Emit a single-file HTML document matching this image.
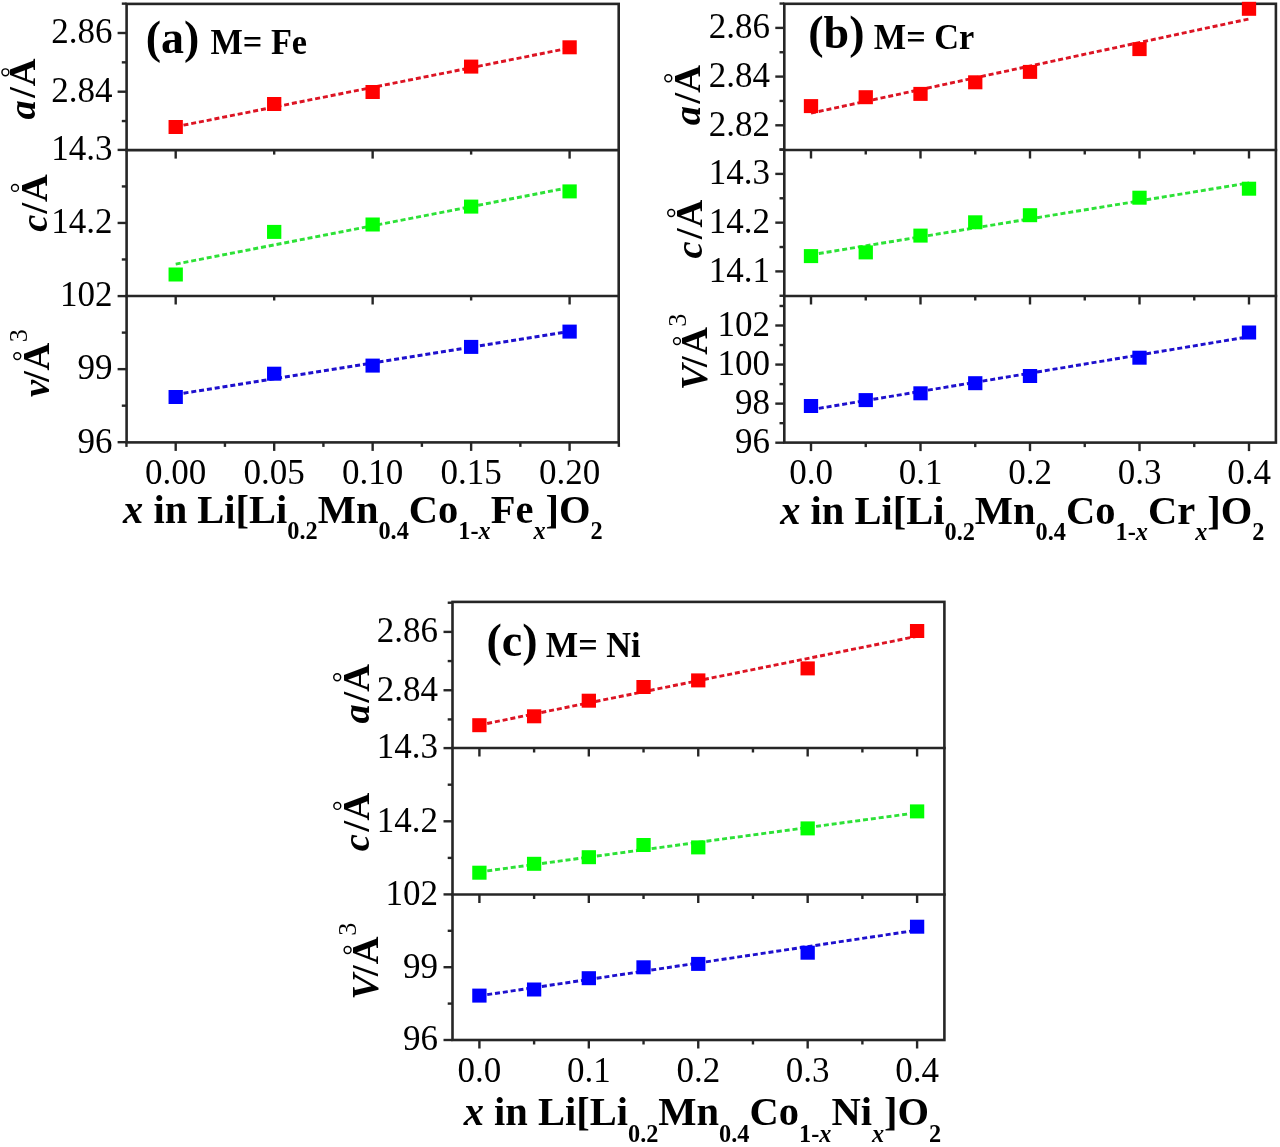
<!DOCTYPE html>
<html><head><meta charset="utf-8"><title>Lattice parameters</title>
<style>
html,body{margin:0;padding:0;background:#fff;}
body{width:1280px;height:1147px;overflow:hidden;}
svg{display:block;font-family:"Liberation Serif", serif;filter:blur(0.3px);}
text{fill:#000;}
</style></head>
<body>
<svg width="1280" height="1147" viewBox="0 0 1280 1147">
<rect x="0" y="0" width="1280" height="1147" fill="#fff"/>
<rect x="126.60" y="3.90" width="492.10" height="438.50" fill="none" stroke="#262626" stroke-width="2.6"/>
<line x1="125.30" y1="150.10" x2="620.00" y2="150.10" stroke="#262626" stroke-width="2.6" />
<line x1="125.30" y1="296.00" x2="620.00" y2="296.00" stroke="#262626" stroke-width="2.6" />
<line x1="175.70" y1="150.10" x2="175.70" y2="158.60" stroke="#262626" stroke-width="2.4" />
<line x1="274.18" y1="150.10" x2="274.18" y2="154.60" stroke="#262626" stroke-width="2.4" />
<line x1="372.65" y1="150.10" x2="372.65" y2="158.60" stroke="#262626" stroke-width="2.4" />
<line x1="471.13" y1="150.10" x2="471.13" y2="154.60" stroke="#262626" stroke-width="2.4" />
<line x1="569.60" y1="150.10" x2="569.60" y2="158.60" stroke="#262626" stroke-width="2.4" />
<line x1="175.70" y1="296.00" x2="175.70" y2="304.50" stroke="#262626" stroke-width="2.4" />
<line x1="274.18" y1="296.00" x2="274.18" y2="300.50" stroke="#262626" stroke-width="2.4" />
<line x1="372.65" y1="296.00" x2="372.65" y2="304.50" stroke="#262626" stroke-width="2.4" />
<line x1="471.13" y1="296.00" x2="471.13" y2="300.50" stroke="#262626" stroke-width="2.4" />
<line x1="569.60" y1="296.00" x2="569.60" y2="304.50" stroke="#262626" stroke-width="2.4" />
<line x1="126.46" y1="442.40" x2="126.46" y2="446.90" stroke="#262626" stroke-width="2.4" />
<line x1="175.70" y1="442.40" x2="175.70" y2="450.90" stroke="#262626" stroke-width="2.4" />
<line x1="224.94" y1="442.40" x2="224.94" y2="446.90" stroke="#262626" stroke-width="2.4" />
<line x1="274.18" y1="442.40" x2="274.18" y2="450.90" stroke="#262626" stroke-width="2.4" />
<line x1="323.41" y1="442.40" x2="323.41" y2="446.90" stroke="#262626" stroke-width="2.4" />
<line x1="372.65" y1="442.40" x2="372.65" y2="450.90" stroke="#262626" stroke-width="2.4" />
<line x1="421.89" y1="442.40" x2="421.89" y2="446.90" stroke="#262626" stroke-width="2.4" />
<line x1="471.13" y1="442.40" x2="471.13" y2="450.90" stroke="#262626" stroke-width="2.4" />
<line x1="520.36" y1="442.40" x2="520.36" y2="446.90" stroke="#262626" stroke-width="2.4" />
<line x1="569.60" y1="442.40" x2="569.60" y2="450.90" stroke="#262626" stroke-width="2.4" />
<line x1="618.84" y1="442.40" x2="618.84" y2="446.90" stroke="#262626" stroke-width="2.4" />
<line x1="121.80" y1="121.05" x2="126.60" y2="121.05" stroke="#262626" stroke-width="2.4" />
<line x1="117.60" y1="91.70" x2="126.60" y2="91.70" stroke="#262626" stroke-width="2.4" />
<line x1="121.80" y1="62.35" x2="126.60" y2="62.35" stroke="#262626" stroke-width="2.4" />
<line x1="117.60" y1="33.00" x2="126.60" y2="33.00" stroke="#262626" stroke-width="2.4" />
<line x1="121.80" y1="3.65" x2="126.60" y2="3.65" stroke="#262626" stroke-width="2.4" />
<line x1="121.80" y1="259.47" x2="126.60" y2="259.47" stroke="#262626" stroke-width="2.4" />
<line x1="117.60" y1="222.95" x2="126.60" y2="222.95" stroke="#262626" stroke-width="2.4" />
<line x1="121.80" y1="186.43" x2="126.60" y2="186.43" stroke="#262626" stroke-width="2.4" />
<line x1="117.60" y1="149.90" x2="126.60" y2="149.90" stroke="#262626" stroke-width="2.4" />
<line x1="117.60" y1="442.20" x2="126.60" y2="442.20" stroke="#262626" stroke-width="2.4" />
<line x1="121.80" y1="405.68" x2="126.60" y2="405.68" stroke="#262626" stroke-width="2.4" />
<line x1="117.60" y1="369.15" x2="126.60" y2="369.15" stroke="#262626" stroke-width="2.4" />
<line x1="121.80" y1="332.62" x2="126.60" y2="332.62" stroke="#262626" stroke-width="2.4" />
<line x1="117.60" y1="296.10" x2="126.60" y2="296.10" stroke="#262626" stroke-width="2.4" />
<text x="112.50" y="102.00" font-size="35" text-anchor="end" font-weight="normal" font-style="normal" >2.84</text>
<text x="112.50" y="43.30" font-size="35" text-anchor="end" font-weight="normal" font-style="normal" >2.86</text>
<text x="112.50" y="233.25" font-size="35" text-anchor="end" font-weight="normal" font-style="normal" >14.2</text>
<text x="112.50" y="160.20" font-size="35" text-anchor="end" font-weight="normal" font-style="normal" >14.3</text>
<text x="112.50" y="452.50" font-size="35" text-anchor="end" font-weight="normal" font-style="normal" >96</text>
<text x="112.50" y="379.45" font-size="35" text-anchor="end" font-weight="normal" font-style="normal" >99</text>
<text x="112.50" y="306.40" font-size="35" text-anchor="end" font-weight="normal" font-style="normal" >102</text>
<text x="175.70" y="484.30" font-size="35" text-anchor="middle" font-weight="normal" font-style="normal" >0.00</text>
<text x="274.18" y="484.30" font-size="35" text-anchor="middle" font-weight="normal" font-style="normal" >0.05</text>
<text x="372.65" y="484.30" font-size="35" text-anchor="middle" font-weight="normal" font-style="normal" >0.10</text>
<text x="471.12" y="484.30" font-size="35" text-anchor="middle" font-weight="normal" font-style="normal" >0.15</text>
<text x="569.60" y="484.30" font-size="35" text-anchor="middle" font-weight="normal" font-style="normal" >0.20</text>
<line x1="175.70" y1="126.74" x2="569.60" y2="48.02" stroke="#dc1423" stroke-width="2.9" stroke-dasharray="5 2.9"/>
<rect x="168.55" y="120.00" width="14.3" height="14.0" fill="#ff0000"/>
<rect x="267.03" y="97.00" width="14.3" height="14.0" fill="#ff0000"/>
<rect x="365.50" y="85.00" width="14.3" height="14.0" fill="#ff0000"/>
<rect x="463.98" y="59.60" width="14.3" height="14.0" fill="#ff0000"/>
<rect x="562.45" y="40.30" width="14.3" height="14.0" fill="#ff0000"/>
<line x1="175.70" y1="264.08" x2="569.60" y2="187.48" stroke="#2de137" stroke-width="2.9" stroke-dasharray="5 2.9"/>
<rect x="168.55" y="267.50" width="14.3" height="14.0" fill="#00ff00"/>
<rect x="267.03" y="224.90" width="14.3" height="14.0" fill="#00ff00"/>
<rect x="365.50" y="217.50" width="14.3" height="14.0" fill="#00ff00"/>
<rect x="463.98" y="199.60" width="14.3" height="14.0" fill="#00ff00"/>
<rect x="562.45" y="184.40" width="14.3" height="14.0" fill="#00ff00"/>
<line x1="175.70" y1="394.48" x2="569.60" y2="331.44" stroke="#1e10cd" stroke-width="2.9" stroke-dasharray="5 2.9"/>
<rect x="168.55" y="390.00" width="14.3" height="14.0" fill="#0000ff"/>
<rect x="267.03" y="366.70" width="14.3" height="14.0" fill="#0000ff"/>
<rect x="365.50" y="358.60" width="14.3" height="14.0" fill="#0000ff"/>
<rect x="463.98" y="339.90" width="14.3" height="14.0" fill="#0000ff"/>
<rect x="562.45" y="324.60" width="14.3" height="14.0" fill="#0000ff"/>
<rect x="784.30" y="3.80" width="491.60" height="438.80" fill="none" stroke="#262626" stroke-width="2.6"/>
<line x1="783.00" y1="150.00" x2="1277.20" y2="150.00" stroke="#262626" stroke-width="2.6" />
<line x1="783.00" y1="296.00" x2="1277.20" y2="296.00" stroke="#262626" stroke-width="2.6" />
<line x1="811.00" y1="150.00" x2="811.00" y2="158.50" stroke="#262626" stroke-width="2.4" />
<line x1="865.75" y1="150.00" x2="865.75" y2="154.50" stroke="#262626" stroke-width="2.4" />
<line x1="920.50" y1="150.00" x2="920.50" y2="158.50" stroke="#262626" stroke-width="2.4" />
<line x1="975.25" y1="150.00" x2="975.25" y2="154.50" stroke="#262626" stroke-width="2.4" />
<line x1="1030.00" y1="150.00" x2="1030.00" y2="158.50" stroke="#262626" stroke-width="2.4" />
<line x1="1084.75" y1="150.00" x2="1084.75" y2="154.50" stroke="#262626" stroke-width="2.4" />
<line x1="1139.50" y1="150.00" x2="1139.50" y2="158.50" stroke="#262626" stroke-width="2.4" />
<line x1="1194.25" y1="150.00" x2="1194.25" y2="154.50" stroke="#262626" stroke-width="2.4" />
<line x1="1249.00" y1="150.00" x2="1249.00" y2="158.50" stroke="#262626" stroke-width="2.4" />
<line x1="811.00" y1="296.00" x2="811.00" y2="304.50" stroke="#262626" stroke-width="2.4" />
<line x1="865.75" y1="296.00" x2="865.75" y2="300.50" stroke="#262626" stroke-width="2.4" />
<line x1="920.50" y1="296.00" x2="920.50" y2="304.50" stroke="#262626" stroke-width="2.4" />
<line x1="975.25" y1="296.00" x2="975.25" y2="300.50" stroke="#262626" stroke-width="2.4" />
<line x1="1030.00" y1="296.00" x2="1030.00" y2="304.50" stroke="#262626" stroke-width="2.4" />
<line x1="1084.75" y1="296.00" x2="1084.75" y2="300.50" stroke="#262626" stroke-width="2.4" />
<line x1="1139.50" y1="296.00" x2="1139.50" y2="304.50" stroke="#262626" stroke-width="2.4" />
<line x1="1194.25" y1="296.00" x2="1194.25" y2="300.50" stroke="#262626" stroke-width="2.4" />
<line x1="1249.00" y1="296.00" x2="1249.00" y2="304.50" stroke="#262626" stroke-width="2.4" />
<line x1="811.00" y1="442.60" x2="811.00" y2="451.10" stroke="#262626" stroke-width="2.4" />
<line x1="865.75" y1="442.60" x2="865.75" y2="447.10" stroke="#262626" stroke-width="2.4" />
<line x1="920.50" y1="442.60" x2="920.50" y2="451.10" stroke="#262626" stroke-width="2.4" />
<line x1="975.25" y1="442.60" x2="975.25" y2="447.10" stroke="#262626" stroke-width="2.4" />
<line x1="1030.00" y1="442.60" x2="1030.00" y2="451.10" stroke="#262626" stroke-width="2.4" />
<line x1="1084.75" y1="442.60" x2="1084.75" y2="447.10" stroke="#262626" stroke-width="2.4" />
<line x1="1139.50" y1="442.60" x2="1139.50" y2="451.10" stroke="#262626" stroke-width="2.4" />
<line x1="1194.25" y1="442.60" x2="1194.25" y2="447.10" stroke="#262626" stroke-width="2.4" />
<line x1="1249.00" y1="442.60" x2="1249.00" y2="451.10" stroke="#262626" stroke-width="2.4" />
<line x1="779.50" y1="149.65" x2="784.30" y2="149.65" stroke="#262626" stroke-width="2.4" />
<line x1="775.30" y1="125.30" x2="784.30" y2="125.30" stroke="#262626" stroke-width="2.4" />
<line x1="779.50" y1="100.95" x2="784.30" y2="100.95" stroke="#262626" stroke-width="2.4" />
<line x1="775.30" y1="76.60" x2="784.30" y2="76.60" stroke="#262626" stroke-width="2.4" />
<line x1="779.50" y1="52.25" x2="784.30" y2="52.25" stroke="#262626" stroke-width="2.4" />
<line x1="775.30" y1="27.90" x2="784.30" y2="27.90" stroke="#262626" stroke-width="2.4" />
<line x1="779.50" y1="3.55" x2="784.30" y2="3.55" stroke="#262626" stroke-width="2.4" />
<line x1="779.50" y1="295.77" x2="784.30" y2="295.77" stroke="#262626" stroke-width="2.4" />
<line x1="775.30" y1="271.40" x2="784.30" y2="271.40" stroke="#262626" stroke-width="2.4" />
<line x1="779.50" y1="247.02" x2="784.30" y2="247.02" stroke="#262626" stroke-width="2.4" />
<line x1="775.30" y1="222.65" x2="784.30" y2="222.65" stroke="#262626" stroke-width="2.4" />
<line x1="779.50" y1="198.28" x2="784.30" y2="198.28" stroke="#262626" stroke-width="2.4" />
<line x1="775.30" y1="173.90" x2="784.30" y2="173.90" stroke="#262626" stroke-width="2.4" />
<line x1="779.50" y1="149.53" x2="784.30" y2="149.53" stroke="#262626" stroke-width="2.4" />
<line x1="775.30" y1="442.70" x2="784.30" y2="442.70" stroke="#262626" stroke-width="2.4" />
<line x1="779.50" y1="423.17" x2="784.30" y2="423.17" stroke="#262626" stroke-width="2.4" />
<line x1="775.30" y1="403.63" x2="784.30" y2="403.63" stroke="#262626" stroke-width="2.4" />
<line x1="779.50" y1="384.10" x2="784.30" y2="384.10" stroke="#262626" stroke-width="2.4" />
<line x1="775.30" y1="364.57" x2="784.30" y2="364.57" stroke="#262626" stroke-width="2.4" />
<line x1="779.50" y1="345.03" x2="784.30" y2="345.03" stroke="#262626" stroke-width="2.4" />
<line x1="775.30" y1="325.50" x2="784.30" y2="325.50" stroke="#262626" stroke-width="2.4" />
<line x1="779.50" y1="305.97" x2="784.30" y2="305.97" stroke="#262626" stroke-width="2.4" />
<text x="770.00" y="135.60" font-size="35" text-anchor="end" font-weight="normal" font-style="normal" >2.82</text>
<text x="770.00" y="86.90" font-size="35" text-anchor="end" font-weight="normal" font-style="normal" >2.84</text>
<text x="770.00" y="38.20" font-size="35" text-anchor="end" font-weight="normal" font-style="normal" >2.86</text>
<text x="770.00" y="281.70" font-size="35" text-anchor="end" font-weight="normal" font-style="normal" >14.1</text>
<text x="770.00" y="232.95" font-size="35" text-anchor="end" font-weight="normal" font-style="normal" >14.2</text>
<text x="770.00" y="184.20" font-size="35" text-anchor="end" font-weight="normal" font-style="normal" >14.3</text>
<text x="770.00" y="453.00" font-size="35" text-anchor="end" font-weight="normal" font-style="normal" >96</text>
<text x="770.00" y="413.93" font-size="35" text-anchor="end" font-weight="normal" font-style="normal" >98</text>
<text x="770.00" y="374.87" font-size="35" text-anchor="end" font-weight="normal" font-style="normal" >100</text>
<text x="770.00" y="335.80" font-size="35" text-anchor="end" font-weight="normal" font-style="normal" >102</text>
<text x="811.00" y="483.70" font-size="35" text-anchor="middle" font-weight="normal" font-style="normal" >0.0</text>
<text x="920.50" y="483.70" font-size="35" text-anchor="middle" font-weight="normal" font-style="normal" >0.1</text>
<text x="1030.00" y="483.70" font-size="35" text-anchor="middle" font-weight="normal" font-style="normal" >0.2</text>
<text x="1139.50" y="483.70" font-size="35" text-anchor="middle" font-weight="normal" font-style="normal" >0.3</text>
<text x="1249.00" y="483.70" font-size="35" text-anchor="middle" font-weight="normal" font-style="normal" >0.4</text>
<line x1="811.00" y1="113.12" x2="1249.00" y2="18.94" stroke="#dc1423" stroke-width="2.9" stroke-dasharray="5 2.9"/>
<rect x="803.85" y="99.10" width="14.3" height="14.0" fill="#ff0000"/>
<rect x="858.60" y="90.20" width="14.3" height="14.0" fill="#ff0000"/>
<rect x="913.35" y="86.90" width="14.3" height="14.0" fill="#ff0000"/>
<rect x="968.10" y="75.30" width="14.3" height="14.0" fill="#ff0000"/>
<rect x="1022.85" y="64.90" width="14.3" height="14.0" fill="#ff0000"/>
<rect x="1132.35" y="42.10" width="14.3" height="14.0" fill="#ff0000"/>
<rect x="1241.85" y="1.80" width="14.3" height="14.0" fill="#ff0000"/>
<line x1="811.00" y1="254.82" x2="1249.00" y2="182.91" stroke="#2de137" stroke-width="2.9" stroke-dasharray="5 2.9"/>
<rect x="803.85" y="249.10" width="14.3" height="14.0" fill="#00ff00"/>
<rect x="858.60" y="245.40" width="14.3" height="14.0" fill="#00ff00"/>
<rect x="913.35" y="228.60" width="14.3" height="14.0" fill="#00ff00"/>
<rect x="968.10" y="215.30" width="14.3" height="14.0" fill="#00ff00"/>
<rect x="1022.85" y="208.20" width="14.3" height="14.0" fill="#00ff00"/>
<rect x="1132.35" y="190.70" width="14.3" height="14.0" fill="#00ff00"/>
<rect x="1241.85" y="181.70" width="14.3" height="14.0" fill="#00ff00"/>
<line x1="811.00" y1="409.66" x2="1249.00" y2="336.71" stroke="#1e10cd" stroke-width="2.9" stroke-dasharray="5 2.9"/>
<rect x="803.85" y="399.00" width="14.3" height="14.0" fill="#0000ff"/>
<rect x="858.60" y="393.10" width="14.3" height="14.0" fill="#0000ff"/>
<rect x="913.35" y="386.30" width="14.3" height="14.0" fill="#0000ff"/>
<rect x="968.10" y="376.20" width="14.3" height="14.0" fill="#0000ff"/>
<rect x="1022.85" y="369.00" width="14.3" height="14.0" fill="#0000ff"/>
<rect x="1132.35" y="350.70" width="14.3" height="14.0" fill="#0000ff"/>
<rect x="1241.85" y="325.50" width="14.3" height="14.0" fill="#0000ff"/>
<rect x="452.50" y="601.90" width="491.90" height="438.10" fill="none" stroke="#262626" stroke-width="2.6"/>
<line x1="451.20" y1="748.00" x2="945.70" y2="748.00" stroke="#262626" stroke-width="2.6" />
<line x1="451.20" y1="894.50" x2="945.70" y2="894.50" stroke="#262626" stroke-width="2.6" />
<line x1="479.40" y1="748.00" x2="479.40" y2="756.50" stroke="#262626" stroke-width="2.4" />
<line x1="534.11" y1="748.00" x2="534.11" y2="752.50" stroke="#262626" stroke-width="2.4" />
<line x1="588.83" y1="748.00" x2="588.83" y2="756.50" stroke="#262626" stroke-width="2.4" />
<line x1="643.54" y1="748.00" x2="643.54" y2="752.50" stroke="#262626" stroke-width="2.4" />
<line x1="698.25" y1="748.00" x2="698.25" y2="756.50" stroke="#262626" stroke-width="2.4" />
<line x1="752.96" y1="748.00" x2="752.96" y2="752.50" stroke="#262626" stroke-width="2.4" />
<line x1="807.67" y1="748.00" x2="807.67" y2="756.50" stroke="#262626" stroke-width="2.4" />
<line x1="862.39" y1="748.00" x2="862.39" y2="752.50" stroke="#262626" stroke-width="2.4" />
<line x1="917.10" y1="748.00" x2="917.10" y2="756.50" stroke="#262626" stroke-width="2.4" />
<line x1="479.40" y1="894.50" x2="479.40" y2="903.00" stroke="#262626" stroke-width="2.4" />
<line x1="534.11" y1="894.50" x2="534.11" y2="899.00" stroke="#262626" stroke-width="2.4" />
<line x1="588.83" y1="894.50" x2="588.83" y2="903.00" stroke="#262626" stroke-width="2.4" />
<line x1="643.54" y1="894.50" x2="643.54" y2="899.00" stroke="#262626" stroke-width="2.4" />
<line x1="698.25" y1="894.50" x2="698.25" y2="903.00" stroke="#262626" stroke-width="2.4" />
<line x1="752.96" y1="894.50" x2="752.96" y2="899.00" stroke="#262626" stroke-width="2.4" />
<line x1="807.67" y1="894.50" x2="807.67" y2="903.00" stroke="#262626" stroke-width="2.4" />
<line x1="862.39" y1="894.50" x2="862.39" y2="899.00" stroke="#262626" stroke-width="2.4" />
<line x1="917.10" y1="894.50" x2="917.10" y2="903.00" stroke="#262626" stroke-width="2.4" />
<line x1="479.40" y1="1040.00" x2="479.40" y2="1048.50" stroke="#262626" stroke-width="2.4" />
<line x1="534.11" y1="1040.00" x2="534.11" y2="1044.50" stroke="#262626" stroke-width="2.4" />
<line x1="588.83" y1="1040.00" x2="588.83" y2="1048.50" stroke="#262626" stroke-width="2.4" />
<line x1="643.54" y1="1040.00" x2="643.54" y2="1044.50" stroke="#262626" stroke-width="2.4" />
<line x1="698.25" y1="1040.00" x2="698.25" y2="1048.50" stroke="#262626" stroke-width="2.4" />
<line x1="752.96" y1="1040.00" x2="752.96" y2="1044.50" stroke="#262626" stroke-width="2.4" />
<line x1="807.67" y1="1040.00" x2="807.67" y2="1048.50" stroke="#262626" stroke-width="2.4" />
<line x1="862.39" y1="1040.00" x2="862.39" y2="1044.50" stroke="#262626" stroke-width="2.4" />
<line x1="917.10" y1="1040.00" x2="917.10" y2="1048.50" stroke="#262626" stroke-width="2.4" />
<line x1="447.70" y1="719.42" x2="452.50" y2="719.42" stroke="#262626" stroke-width="2.4" />
<line x1="443.50" y1="690.25" x2="452.50" y2="690.25" stroke="#262626" stroke-width="2.4" />
<line x1="447.70" y1="661.07" x2="452.50" y2="661.07" stroke="#262626" stroke-width="2.4" />
<line x1="443.50" y1="631.90" x2="452.50" y2="631.90" stroke="#262626" stroke-width="2.4" />
<line x1="447.70" y1="602.72" x2="452.50" y2="602.72" stroke="#262626" stroke-width="2.4" />
<line x1="447.70" y1="857.90" x2="452.50" y2="857.90" stroke="#262626" stroke-width="2.4" />
<line x1="443.50" y1="821.30" x2="452.50" y2="821.30" stroke="#262626" stroke-width="2.4" />
<line x1="447.70" y1="784.70" x2="452.50" y2="784.70" stroke="#262626" stroke-width="2.4" />
<line x1="443.50" y1="748.10" x2="452.50" y2="748.10" stroke="#262626" stroke-width="2.4" />
<line x1="443.50" y1="1040.00" x2="452.50" y2="1040.00" stroke="#262626" stroke-width="2.4" />
<line x1="447.70" y1="1003.60" x2="452.50" y2="1003.60" stroke="#262626" stroke-width="2.4" />
<line x1="443.50" y1="967.20" x2="452.50" y2="967.20" stroke="#262626" stroke-width="2.4" />
<line x1="447.70" y1="930.80" x2="452.50" y2="930.80" stroke="#262626" stroke-width="2.4" />
<line x1="443.50" y1="894.40" x2="452.50" y2="894.40" stroke="#262626" stroke-width="2.4" />
<text x="438.00" y="700.55" font-size="35" text-anchor="end" font-weight="normal" font-style="normal" >2.84</text>
<text x="438.00" y="642.20" font-size="35" text-anchor="end" font-weight="normal" font-style="normal" >2.86</text>
<text x="438.00" y="831.60" font-size="35" text-anchor="end" font-weight="normal" font-style="normal" >14.2</text>
<text x="438.00" y="758.40" font-size="35" text-anchor="end" font-weight="normal" font-style="normal" >14.3</text>
<text x="438.00" y="1050.30" font-size="35" text-anchor="end" font-weight="normal" font-style="normal" >96</text>
<text x="438.00" y="977.50" font-size="35" text-anchor="end" font-weight="normal" font-style="normal" >99</text>
<text x="438.00" y="904.70" font-size="35" text-anchor="end" font-weight="normal" font-style="normal" >102</text>
<text x="479.40" y="1081.50" font-size="35" text-anchor="middle" font-weight="normal" font-style="normal" >0.0</text>
<text x="588.83" y="1081.50" font-size="35" text-anchor="middle" font-weight="normal" font-style="normal" >0.1</text>
<text x="698.25" y="1081.50" font-size="35" text-anchor="middle" font-weight="normal" font-style="normal" >0.2</text>
<text x="807.67" y="1081.50" font-size="35" text-anchor="middle" font-weight="normal" font-style="normal" >0.3</text>
<text x="917.10" y="1081.50" font-size="35" text-anchor="middle" font-weight="normal" font-style="normal" >0.4</text>
<line x1="479.40" y1="725.03" x2="917.10" y2="636.29" stroke="#dc1423" stroke-width="2.9" stroke-dasharray="5 2.9"/>
<rect x="472.25" y="718.20" width="14.3" height="14.0" fill="#ff0000"/>
<rect x="526.96" y="709.30" width="14.3" height="14.0" fill="#ff0000"/>
<rect x="581.68" y="693.70" width="14.3" height="14.0" fill="#ff0000"/>
<rect x="636.39" y="680.00" width="14.3" height="14.0" fill="#ff0000"/>
<rect x="691.10" y="673.40" width="14.3" height="14.0" fill="#ff0000"/>
<rect x="800.52" y="661.40" width="14.3" height="14.0" fill="#ff0000"/>
<rect x="909.95" y="624.00" width="14.3" height="14.0" fill="#ff0000"/>
<line x1="479.40" y1="871.92" x2="917.10" y2="812.74" stroke="#2de137" stroke-width="2.9" stroke-dasharray="5 2.9"/>
<rect x="472.25" y="865.70" width="14.3" height="14.0" fill="#00ff00"/>
<rect x="526.96" y="856.80" width="14.3" height="14.0" fill="#00ff00"/>
<rect x="581.68" y="850.20" width="14.3" height="14.0" fill="#00ff00"/>
<rect x="636.39" y="838.00" width="14.3" height="14.0" fill="#00ff00"/>
<rect x="691.10" y="840.40" width="14.3" height="14.0" fill="#00ff00"/>
<rect x="800.52" y="821.40" width="14.3" height="14.0" fill="#00ff00"/>
<rect x="909.95" y="804.40" width="14.3" height="14.0" fill="#00ff00"/>
<line x1="479.40" y1="995.84" x2="917.10" y2="930.18" stroke="#1e10cd" stroke-width="2.9" stroke-dasharray="5 2.9"/>
<rect x="472.25" y="988.60" width="14.3" height="14.0" fill="#0000ff"/>
<rect x="526.96" y="982.50" width="14.3" height="14.0" fill="#0000ff"/>
<rect x="581.68" y="971.20" width="14.3" height="14.0" fill="#0000ff"/>
<rect x="636.39" y="960.30" width="14.3" height="14.0" fill="#0000ff"/>
<rect x="691.10" y="956.90" width="14.3" height="14.0" fill="#0000ff"/>
<rect x="800.52" y="945.70" width="14.3" height="14.0" fill="#0000ff"/>
<rect x="909.95" y="919.70" width="14.3" height="14.0" fill="#0000ff"/>
<text x="145.8" y="52.9" font-weight="bold" font-size="46">(a)</text>
<text transform="translate(210.4,54.3) scale(1,1.04)" font-weight="bold" font-size="34.3">M= Fe</text>
<text x="808.3" y="48.3" font-weight="bold" font-size="46">(b)</text>
<text transform="translate(873.8,49.0) scale(1,1.04)" font-weight="bold" font-size="34.3">M= Cr</text>
<text x="486.4" y="656.2" font-weight="bold" font-size="46">(c)</text>
<text transform="translate(545.8,656.5) scale(1,1.04)" font-weight="bold" font-size="34.3">M= Ni</text>
<text x="123.00" y="522.70" font-weight="bold" font-size="40.5"><tspan font-style="italic">x</tspan> in Li[Li<tspan font-size="24.3" dy="16.5">0.2</tspan><tspan dy="-16.5">Mn</tspan><tspan font-size="24.3" dy="16.5">0.4</tspan><tspan dy="-16.5">Co</tspan><tspan font-size="24.3" dy="16.5">1-<tspan font-style="italic">x</tspan></tspan><tspan dy="-16.5">Fe</tspan><tspan font-size="24.3" dy="16.5" font-style="italic">x</tspan><tspan dy="-16.5">]O</tspan><tspan font-size="24.3" dy="16.5">2</tspan></text>
<text x="780.20" y="523.70" font-weight="bold" font-size="40.5"><tspan font-style="italic">x</tspan> in Li[Li<tspan font-size="24.3" dy="16.5">0.2</tspan><tspan dy="-16.5">Mn</tspan><tspan font-size="24.3" dy="16.5">0.4</tspan><tspan dy="-16.5">Co</tspan><tspan font-size="24.3" dy="16.5">1-<tspan font-style="italic">x</tspan></tspan><tspan dy="-16.5">Cr</tspan><tspan font-size="24.3" dy="16.5" font-style="italic">x</tspan><tspan dy="-16.5">]O</tspan><tspan font-size="24.3" dy="16.5">2</tspan></text>
<text x="463.70" y="1125.20" font-weight="bold" font-size="40.5"><tspan font-style="italic">x</tspan> in Li[Li<tspan font-size="24.3" dy="16.5">0.2</tspan><tspan dy="-16.5">Mn</tspan><tspan font-size="24.3" dy="16.5">0.4</tspan><tspan dy="-16.5">Co</tspan><tspan font-size="24.3" dy="16.5">1-<tspan font-style="italic">x</tspan></tspan><tspan dy="-16.5">Ni</tspan><tspan font-size="24.3" dy="16.5" font-style="italic">x</tspan><tspan dy="-16.5">]O</tspan><tspan font-size="24.3" dy="16.5">2</tspan></text>
<text transform="translate(35.20,119.45) rotate(-90)" font-size="38.5" font-weight="bold" font-style="italic">a</text>
<text transform="translate(35.20,97.82) rotate(-90)" font-size="38.5" font-weight="bold" font-style="normal">/</text>
<text transform="translate(35.20,86.28) rotate(-90)" font-size="38.5" font-weight="bold" font-style="normal">A</text>
<circle cx="5.40" cy="72.30" r="3.45" fill="none" stroke="#000" stroke-width="1.45"/>
<text transform="translate(46.80,231.86) rotate(-90)" font-size="38.5" font-weight="bold" font-style="italic">c</text>
<text transform="translate(46.80,213.42) rotate(-90)" font-size="38.5" font-weight="bold" font-style="normal">/</text>
<text transform="translate(46.80,201.98) rotate(-90)" font-size="38.5" font-weight="bold" font-style="normal">A</text>
<circle cx="15.00" cy="187.90" r="3.45" fill="none" stroke="#000" stroke-width="1.45"/>
<text transform="translate(48.80,396.96) rotate(-90)" font-size="38.5" font-weight="bold" font-style="italic">v</text>
<text transform="translate(48.80,381.72) rotate(-90)" font-size="38.5" font-weight="bold" font-style="normal">/</text>
<text transform="translate(48.80,370.58) rotate(-90)" font-size="38.5" font-weight="bold" font-style="normal">A</text>
<circle cx="17.30" cy="356.10" r="3.45" fill="none" stroke="#000" stroke-width="1.45"/>
<text transform="translate(26.65,342.14) rotate(-90)" font-size="26">3</text>
<text transform="translate(700.20,125.25) rotate(-90)" font-size="38.5" font-weight="bold" font-style="italic">a</text>
<text transform="translate(700.20,103.42) rotate(-90)" font-size="38.5" font-weight="bold" font-style="normal">/</text>
<text transform="translate(700.20,92.68) rotate(-90)" font-size="38.5" font-weight="bold" font-style="normal">A</text>
<circle cx="668.30" cy="78.20" r="3.45" fill="none" stroke="#000" stroke-width="1.45"/>
<text transform="translate(702.30,258.56) rotate(-90)" font-size="38.5" font-weight="bold" font-style="italic">c</text>
<text transform="translate(702.30,239.12) rotate(-90)" font-size="38.5" font-weight="bold" font-style="normal">/</text>
<text transform="translate(702.30,227.38) rotate(-90)" font-size="38.5" font-weight="bold" font-style="normal">A</text>
<circle cx="671.20" cy="213.00" r="3.45" fill="none" stroke="#000" stroke-width="1.45"/>
<text transform="translate(707.30,390.36) rotate(-90)" font-size="38.5" font-weight="bold" font-style="italic">V</text>
<text transform="translate(707.30,367.02) rotate(-90)" font-size="38.5" font-weight="bold" font-style="normal">/</text>
<text transform="translate(707.30,354.78) rotate(-90)" font-size="38.5" font-weight="bold" font-style="normal">A</text>
<circle cx="677.00" cy="341.10" r="3.45" fill="none" stroke="#000" stroke-width="1.45"/>
<text transform="translate(686.45,326.84) rotate(-90)" font-size="26">3</text>
<text transform="translate(368.80,723.45) rotate(-90)" font-size="38.5" font-weight="bold" font-style="italic">a</text>
<text transform="translate(368.80,702.42) rotate(-90)" font-size="38.5" font-weight="bold" font-style="normal">/</text>
<text transform="translate(368.80,691.68) rotate(-90)" font-size="38.5" font-weight="bold" font-style="normal">A</text>
<circle cx="337.20" cy="677.20" r="3.45" fill="none" stroke="#000" stroke-width="1.45"/>
<text transform="translate(369.00,851.26) rotate(-90)" font-size="38.5" font-weight="bold" font-style="italic">c</text>
<text transform="translate(369.00,831.52) rotate(-90)" font-size="38.5" font-weight="bold" font-style="normal">/</text>
<text transform="translate(369.00,820.38) rotate(-90)" font-size="38.5" font-weight="bold" font-style="normal">A</text>
<circle cx="337.30" cy="805.90" r="3.45" fill="none" stroke="#000" stroke-width="1.45"/>
<text transform="translate(377.50,999.86) rotate(-90)" font-size="38.5" font-weight="bold" font-style="italic">V</text>
<text transform="translate(377.50,976.12) rotate(-90)" font-size="38.5" font-weight="bold" font-style="normal">/</text>
<text transform="translate(377.50,964.28) rotate(-90)" font-size="38.5" font-weight="bold" font-style="normal">A</text>
<circle cx="347.60" cy="950.00" r="3.45" fill="none" stroke="#000" stroke-width="1.45"/>
<text transform="translate(355.65,935.84) rotate(-90)" font-size="26">3</text>
</svg>
</body></html>
